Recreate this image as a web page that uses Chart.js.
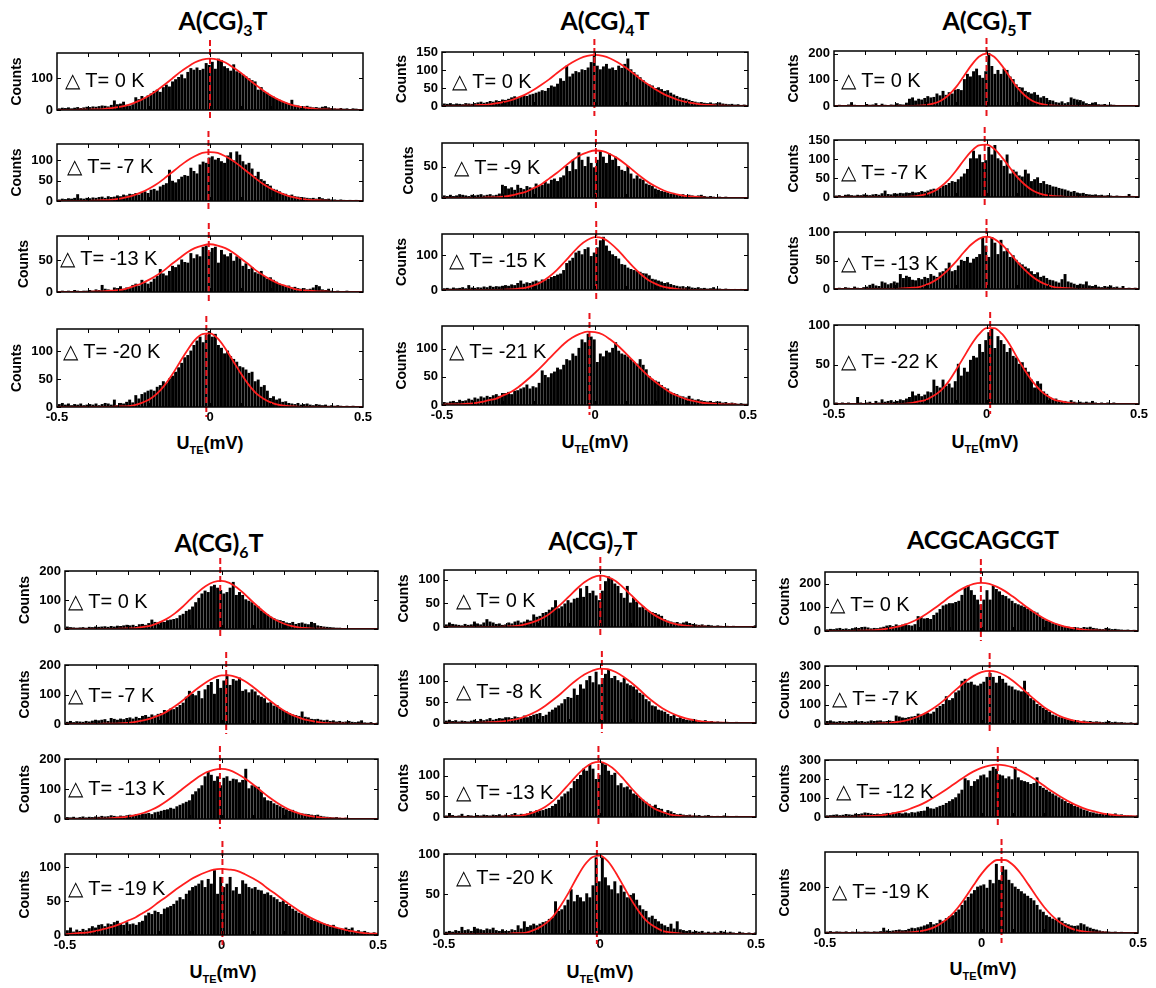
<!DOCTYPE html>
<html>
<head>
<meta charset="utf-8">
<script src="https://cdn.jsdelivr.net/npm/chart.js@4.4.1/dist/chart.umd.min.js"></script>
<style>
body{margin:0;background:#fff;width:1156px;height:988px;position:relative;overflow:hidden;font-family:"Liberation Sans",Arial,sans-serif}
canvas{position:absolute}
.title{position:absolute;font-family:Lato,"Liberation Sans",sans-serif;font-weight:700;font-size:25px;transform:translate(-50%,-50%);white-space:nowrap;color:#000}
.title sub{font-size:16px;vertical-align:-6px;line-height:0}
.xlab{position:absolute;font-weight:700;font-size:18px;transform:translate(-50%,-50%);white-space:nowrap}
.xlab sub{font-size:11px;vertical-align:-5px;line-height:0}
.dt{position:absolute;font-size:20px;transform:translateY(-50%);white-space:nowrap;color:#000}
</style>
</head>
<body>
<script>
// histogram bins: 100 bins of 0.01 mV between -0.5 and 0.5
const binLabels = Array.from({length: 100}, (_, i) => (-0.495 + i * 0.01).toFixed(3));
// x grid of the gaussian fit points
const fitX = [-0.5,-0.475,-0.45,-0.425,-0.4,-0.375,-0.35,-0.325,-0.3,-0.275,-0.25,-0.225,-0.2,-0.175,-0.15,-0.125,-0.1,-0.075,-0.05,-0.025,0,
  0.025,0.05,0.075,0.1,0.125,0.15,0.175,0.2,0.225,0.25,0.275,0.3,0.325,0.35,0.375,0.4,0.425,0.45,0.475,0.5];

const titleMain = ['A(CG)', 'A(CG)', 'A(CG)', 'A(CG)', 'A(CG)', 'ACGCAGCGT'];
const titleSub = ['3', '4', '5', '6', '7', ''];
const titleEnd = ['T', 'T', 'T', 'T', 'T', ''];

// delta T of each panel
const dTCG3 = ['0', '-7', '-13', '-20'];
const dTCG4 = ['0', '-9', '-15', '-21'];
const dTCG5 = ['0', '-7', '-13', '-22'];
const dTCG6 = ['0', '-7', '-13', '-19'];
const dTCG7 = ['0', '-8', '-13', '-20'];
const dTACG = ['0', '-7', '-12', '-19'];

// y range / tick step of each panel
const yMaxCG3 = [180, 140, 88, 140], yStepCG3 = [100, 50, 50, 50];
const yMaxCG4 = [150, 88, 160, 140], yStepCG4 = [50, 50, 100, 50];
const yMaxCG5 = [210, 150, 100, 100], yStepCG5 = [100, 50, 50, 50];
const yMaxCG6 = [200, 200, 200, 120], yStepCG6 = [100, 100, 100, 50];
const yMaxCG7 = [120, 140, 140, 100], yStepCG7 = [50, 50, 50, 50];
const yMaxACG = [250, 300, 300, 355], yStepACG = [100, 100, 100, 200];

// fitted peak centers (dashed lines)
const centerCG3 = [0, -0.005, -0.004, -0.012];
const centerCG4 = [-0.002, 0.003, 0.004, -0.018];
const centerCG5 = [0, -0.006, 0, 0.012];
const centerCG6 = [-0.004, 0.015, -0.005, 0.003];
const centerCG7 = [0.001, 0.006, -0.005, -0.01];
const centerACG = [-0.002, 0.026, 0.052, 0.064];

// histogram counts
const countsCG3 = [
 [3,5,4,6,3,5,7,4,6,8, 7,9,8,10,12,11,9,14,28,16, 18,24,14,12,16,38,32,42,36,44, 50,58,62,55,70,78,72,88,95,102,
  110,98,118,130,125,132,124,128,146,140, 150,128,160,155,136,130,122,142,120,116, 110,104,98,92,88,62,70,56,52,44,
  40,34,30,26,22,18,30,14,12,10, 9,11,8,6,7,5,8,10,6,4, 3,2,4,2,3,1,3,2,1,1],
 [2,4,3,5,4,6,15,5,4,6, 5,7,6,8,9,6,10,8,9,12, 10,14,12,16,15,18,14,20,22,18, 26,28,24,34,38,42,75,48,44,52,
  58,62,60,80,72,66,88,95,92,105, 108,100,104,96,92,110,118,98,120,112, 96,88,92,78,60,70,52,48,40,36,
  28,26,22,18,16,12,14,10,9,8, 7,6,5,6,4,8,5,3,4,2, 2,1,2,1,0,1,0,1,0,0],
 [0,1,0,1,0,2,1,0,1,1, 2,1,3,2,10,4,3,2,6,5, 8,4,6,5,10,12,9,18,14,12, 15,20,24,35,28,25,32,40,38,42,
  50,46,45,60,52,58,55,70,72,62, 68,70,45,65,58,55,60,48,55,52, 40,44,35,38,30,28,32,24,20,22,
  18,15,12,10,8,9,6,7,5,4, 5,3,4,6,10,8,3,2,4,1, 0,1,0,0,1,0,0,0,0,0],
 [4,6,3,5,2,4,3,5,2,3, 4,3,5,2,4,6,5,3,12,2, 6,5,8,12,7,20,14,22,25,28, 30,28,35,38,45,42,50,55,62,70,
  78,88,92,100,110,118,125,115,128,135, 125,130,110,105,95,100,90,85,80,72, 70,66,60,62,45,48,35,38,28,15,
  18,12,14,8,9,6,5,4,6,3, 4,5,3,2,4,3,2,3,1,2, 1,2,1,0,1,0,1,0,0,0]
];
const countsCG4 = [
 [5,4,6,3,5,4,3,6,5,4, 6,8,10,7,9,12,10,14,12,16, 15,18,22,25,20,24,28,26,30,32, 35,38,42,40,48,55,52,60,75,68,
  110,80,88,95,92,100,98,105,120,140, 110,100,108,115,102,105,98,110,104,115, 130,100,92,85,78,70,62,58,55,48,
  50,45,40,42,35,30,26,22,20,18, 15,12,10,8,9,7,6,8,5,6, 8,5,4,3,4,2,3,1,2,1],
 [3,2,4,2,3,5,4,3,2,4, 3,4,5,3,4,5,3,4,6,20, 18,14,16,12,20,15,13,18,16,15, 22,18,20,25,22,28,30,26,32,35,
  50,42,60,45,72,60,50,65,55,48, 60,75,65,55,70,60,65,50,44,42, 50,38,30,35,30,28,22,20,18,14,
  12,10,9,8,6,7,5,4,5,3, 4,3,2,3,4,2,1,2,1,0, 1,0,1,0,0,0,0,0,0,0],
 [3,4,2,5,3,4,6,3,12,5, 4,6,5,8,6,10,7,9,8,10, 12,10,14,12,18,25,16,20,18,22, 25,22,28,26,30,35,38,42,45,55,
  75,82,90,105,110,100,115,120,95,105, 120,140,150,125,110,100,95,88,72,70, 62,58,55,52,50,46,45,40,30,28,
  25,22,18,20,15,12,10,8,9,6, 8,5,4,6,3,4,2,3,6,2, 2,1,2,1,0,1,0,1,0,1],
 [4,3,5,6,4,8,6,7,10,8, 12,10,14,12,15,13,16,18,15,20, 20,22,18,24,25,28,30,35,28,32, 30,38,60,52,48,55,58,65,62,70,
  80,78,90,86,100,115,110,125,120,115, 75,90,85,95,92,100,110,95,90,88, 85,80,75,72,80,70,62,50,45,42,
  40,34,30,28,22,20,18,15,14,12, 15,10,8,9,7,6,5,6,4,5, 5,3,4,2,3,2,1,2,1,1]
];
const countsCG5 = [
 [0,2,0,1,3,12,2,0,1,0, 5,2,3,8,1,6,2,0,3,2, 8,4,3,10,25,30,18,25,22,28, 35,30,32,45,38,55,40,50,45,60,
  62,58,100,120,110,130,140,115,105,130, 200,150,120,135,120,140,135,110,100,80, 70,68,55,50,45,50,40,30,35,28,
  20,18,12,10,15,8,12,30,25,22, 20,15,8,5,10,12,4,3,5,2, 3,2,1,0,1,0,0,0,0,0],
 [2,3,1,4,5,3,2,4,3,5, 4,3,5,6,4,8,15,6,5,8, 7,9,8,10,9,12,10,11,14,12, 15,18,20,16,22,28,30,35,40,38,
  45,52,60,72,100,120,100,110,90,95, 130,110,135,100,95,80,110,60,70,65, 55,52,70,60,40,45,50,35,40,32,
  30,26,25,22,20,18,15,12,14,10, 8,9,6,5,4,5,3,4,2,3, 2,1,2,1,0,1,6,1,0,0],
 [0,1,0,2,1,0,3,1,0,2, 3,6,8,5,4,12,10,7,9,12, 10,25,18,22,20,15,14,18,16,20, 18,25,22,20,28,30,35,45,30,32,
  40,50,48,55,45,52,55,60,90,75, 55,90,80,60,85,65,70,55,58,50, 45,42,38,35,30,25,28,20,22,18,
  15,14,12,10,16,25,12,10,8,6, 8,7,12,5,4,6,3,2,4,3, 5,2,3,1,4,0,1,0,1,0],
 [1,0,1,0,1,0,0,8,1,0, 1,2,0,3,1,5,2,3,4,2, 3,5,4,6,8,15,10,12,9,11, 15,14,30,22,20,30,22,25,20,28,
  50,35,45,40,55,60,58,75,65,80, 90,95,70,85,80,75,65,70,60,58, 50,52,45,40,30,20,28,25,15,12,
  8,5,6,4,3,3,2,4,2,1, 2,1,2,1,3,1,0,1,0,1, 0,1,0,0,0,0,0,0,0,0]
];
const countsCG6 = [
 [6,4,3,2,3,4,2,5,4,6, 5,6,7,5,8,6,9,8,10,12, 10,12,8,14,15,12,18,30,22,20, 25,22,28,30,32,35,45,50,60,65,
  75,90,105,120,130,125,145,150,140,132, 120,125,140,160,115,125,115,100,95,90, 80,75,62,55,48,40,35,30,28,25,
  20,18,22,15,18,20,16,14,22,18, 10,8,6,5,4,3,2,2,1,1, 1,0,1,0,0,0,0,0,0,0],
 [5,8,4,7,6,5,8,6,9,12, 10,12,14,8,18,15,12,16,14,18, 20,16,22,18,25,28,22,30,26,32, 35,45,42,50,48,55,62,70,90,110,
  100,95,110,85,115,130,140,100,150,120, 145,165,130,150,145,155,110,115,105,115, 108,95,90,85,70,72,60,62,50,45,
  40,35,30,28,25,40,22,20,15,14, 15,12,10,12,8,10,6,8,5,6, 8,5,4,6,10,3,2,4,1,2],
 [4,3,5,2,4,6,3,5,4,6, 5,8,6,7,10,8,6,9,8,10, 12,10,14,12,15,16,18,14,20,22, 25,28,30,35,32,40,45,50,55,60,
  80,90,100,110,140,155,145,125,140,110, 135,140,125,132,130,120,128,165,100,110, 108,105,90,70,60,58,50,45,40,35,
  30,25,28,22,18,16,15,14,12,10, 12,8,6,5,4,3,4,2,1,2, 1,1,0,1,0,0,0,0,0,0],
 [6,10,4,7,5,8,6,9,12,10, 14,15,12,16,15,18,20,16,14,18, 15,16,14,18,20,28,32,30,35,33, 30,38,40,42,45,50,55,52,60,65,
  70,72,75,80,70,82,75,95,60,85, 70,75,85,65,70,60,80,75,70,68, 70,66,65,60,62,58,55,52,48,50,
  45,42,38,35,32,30,28,25,22,20, 20,18,16,15,12,14,10,9,8,10, 8,10,5,6,4,5,3,2,3,1]
];
const countsCG7 = [
 [4,8,5,4,3,2,5,3,4,10, 6,4,8,15,10,8,5,6,3,4, 8,6,10,12,8,10,14,12,25,20, 22,28,30,35,40,55,38,42,48,55,
  50,58,60,80,62,85,70,75,65,55, 75,95,105,100,90,85,70,60,85,50, 60,52,40,42,35,32,30,28,25,22,
  15,12,10,8,9,6,8,10,7,5, 4,3,4,2,3,2,1,2,1,0, 1,0,1,0,0,0,0,0,0,2],
 [4,6,3,5,2,4,3,2,4,6, 3,8,5,7,10,6,8,10,9,12, 12,10,14,12,10,16,12,15,18,20, 22,15,18,25,30,35,40,45,55,60,
  58,80,65,90,80,100,110,95,120,90, 105,115,125,105,110,100,95,105,92,88, 85,78,70,66,55,50,40,38,30,28,
  25,20,15,18,10,12,8,6,5,8, 6,4,3,5,2,3,1,2,1,0, 1,0,0,1,0,0,0,0,0,0],
 [2,8,3,1,2,6,1,3,2,1, 3,2,4,3,2,4,3,5,2,4, 3,5,8,4,6,5,7,12,10,15, 14,15,18,20,25,30,40,48,55,60,
  68,85,90,100,115,110,125,115,90,100, 130,125,110,100,105,75,80,70,72,65, 55,52,45,40,35,30,25,28,20,18,
  10,15,12,8,5,6,4,3,4,2, 2,3,1,2,3,1,0,1,0,2, 1,0,0,1,0,0,0,0,0,0],
 [2,3,2,4,3,8,4,5,3,8, 6,5,4,6,5,7,4,3,5,3, 3,5,4,10,6,15,8,10,12,10, 12,14,15,18,20,40,28,30,35,42,
  55,40,48,45,40,50,45,60,95,65, 95,70,60,55,65,50,60,52,45,48, 50,42,35,30,28,20,22,18,15,12,
  10,8,12,6,15,5,4,3,4,2, 3,2,3,1,2,1,2,1,3,2, 1,2,1,0,2,1,0,1,0,1]
];
const countsACG = [
 [4,6,5,8,10,6,8,5,9,12, 10,14,15,12,8,10,9,12,15,20, 22,18,25,20,24,28,22,20,26,60, 55,50,52,48,65,75,90,105,110,115,
  115,120,125,150,180,190,170,150,130,110, 130,170,130,190,175,165,150,145,135,125, 115,110,105,100,92,85,80,75,60,50,
  42,38,30,28,22,20,18,15,12,14, 12,10,14,12,15,10,8,6,5,10, 8,5,6,4,3,2,3,1,2,1],
 [12,15,10,8,12,10,8,12,10,14, 10,12,8,10,15,12,14,15,10,12, 14,12,40,35,30,28,32,35,38,50, 45,48,55,50,60,80,90,100,140,120,
  130,160,170,220,230,210,215,200,195,205, 215,240,260,240,210,245,230,210,195,190, 175,170,165,220,160,130,120,100,90,80,
  70,60,45,40,32,30,25,20,18,15, 15,12,14,10,12,8,10,8,6,8, 12,6,8,5,6,4,3,5,2,3],
 [5,6,8,10,6,8,12,10,8,14, 12,15,20,18,15,12,14,12,15,18, 15,20,22,18,15,20,16,22,20,25, 28,30,50,42,40,48,55,60,70,80,
  90,100,120,140,200,190,160,185,195,215, 220,205,240,260,250,220,215,200,210,195, 260,205,190,185,180,170,175,205,160,150,
  140,130,120,110,100,90,80,70,65,55, 50,42,35,30,22,20,15,12,14,10, 10,12,15,8,10,6,5,4,3,5],
 [3,5,2,4,3,2,4,1,3,2, 3,2,4,3,2,4,3,5,20,8, 6,8,10,12,9,10,15,20,18,22, 25,30,35,45,35,40,55,50,62,70,
  75,90,100,120,140,155,170,185,200,205, 210,195,230,215,300,230,290,275,230,215, 200,190,180,170,160,150,140,120,100,90,
  75,68,60,55,65,50,40,35,30,28, 30,40,35,25,20,15,12,8,5,4, 3,2,3,1,2,1,0,1,0,0]
];

// gaussian fit curves, on the fitX grid
const fitCG3 = [
 [0,0,0,1,1,2,3,6,9,14,22,32,45,61,79,98,118,135,150,159,162,159,150,135,118,98,79,61,45,32,22,14,9,6,3,2,1,1,0,0,0],
 [0,0,0,0,0,1,2,3,5,9,14,21,30,41,55,70,85,99,110,118,120,118,110,99,85,70,55,41,30,21,14,9,5,3,2,1,0,0,0,0,0],
 [0,0,0,0,0,1,1,2,3,5,9,13,19,26,34,44,53,62,69,73,75,73,69,62,53,44,34,26,19,13,9,5,3,2,1,1,0,0,0,0,0],
 [0,0,0,0,0,0,0,0,1,1,3,7,13,23,38,57,79,101,120,131,132,123,105,83,61,41,25,15,8,4,2,1,0,0,0,0,0,0,0,0,0]
];
const fitCG4 = [
 [0,0,0,1,1,3,4,7,11,16,24,33,45,59,74,91,107,121,132,139,142,139,132,121,107,91,74,59,45,33,24,16,11,7,4,3,1,1,0,0,0],
 [0,0,0,0,0,0,1,1,2,4,7,10,16,22,31,40,50,60,68,73,76,75,70,63,54,44,34,25,18,12,8,5,3,2,1,0,0,0,0,0,0],
 [0,0,0,0,0,0,0,0,1,2,4,7,13,23,38,57,80,104,127,143,151,148,134,114,90,66,45,28,17,9,5,2,1,0,0,0,0,0,0,0,0],
 [0,1,1,2,3,5,8,11,17,23,32,43,55,68,82,96,109,119,126,130,129,125,116,105,92,78,64,51,40,30,21,15,10,7,4,3,2,1,1,0,0]
];
const fitCG5 = [
 [0,0,0,0,0,0,0,0,0,0,0,1,3,9,20,41,72,113,155,188,200,188,155,113,72,41,20,9,3,1,0,0,0,0,0,0,0,0,0,0,0],
 [0,0,0,0,0,0,0,0,0,0,1,3,7,14,27,45,69,96,120,136,138,127,105,79,53,33,18,9,4,2,1,0,0,0,0,0,0,0,0,0,0],
 [0,0,0,0,0,0,0,0,0,1,2,3,7,13,22,34,48,64,78,88,92,88,78,64,48,34,22,13,7,3,2,1,0,0,0,0,0,0,0,0,0],
 [0,0,0,0,0,0,0,0,0,0,1,3,5,10,17,28,43,59,75,88,96,96,89,76,59,43,29,18,10,5,3,1,0,0,0,0,0,0,0,0,0]
];
const fitCG6 = [
 [0,0,0,0,0,0,0,1,2,3,7,12,22,35,53,76,102,127,148,162,166,159,142,119,93,69,47,30,18,10,5,3,1,1,0,0,0,0,0,0,0],
 [0,0,0,0,0,1,1,2,4,7,12,19,29,42,59,79,101,122,141,156,165,165,158,145,126,105,83,63,45,31,21,13,8,4,2,1,1,0,0,0,0],
 [0,0,0,0,1,1,3,5,8,13,20,30,43,60,79,100,120,139,155,164,167,163,151,135,116,95,74,56,40,27,18,11,7,4,2,1,1,0,0,0,0],
 [1,2,3,4,6,9,12,16,21,26,33,40,49,57,66,74,82,88,93,97,98,97,95,90,84,77,68,60,51,43,35,28,22,17,13,10,7,5,3,2,2]
];
const fitCG7 = [
 [0,0,0,0,0,0,0,0,1,2,4,8,14,22,34,48,64,80,94,104,108,105,97,83,67,51,37,25,16,9,5,3,1,1,0,0,0,0,0,0,0],
 [0,0,0,0,0,1,2,3,5,8,13,20,29,41,55,70,87,102,115,124,129,128,121,110,96,80,63,48,35,25,17,11,7,4,2,1,1,0,0,0,0],
 [0,0,0,0,0,0,0,0,1,2,4,8,15,25,39,58,79,100,118,130,133,126,112,92,70,50,33,20,12,6,3,1,1,0,0,0,0,0,0,0,0],
 [0,0,0,0,0,0,0,0,0,1,1,3,7,13,22,36,52,70,86,96,98,91,77,60,43,28,16,9,4,2,1,0,0,0,0,0,0,0,0,0,0]
];
const fitACG = [
 [0,0,0,0,1,2,3,6,10,16,25,37,53,73,96,121,146,169,187,200,204,200,187,169,146,121,96,73,53,37,25,16,10,6,3,2,1,0,0,0,0],
 [0,0,0,0,0,1,1,3,5,9,15,25,40,60,85,116,151,187,221,249,268,275,269,251,224,190,154,119,87,62,41,26,16,9,5,3,1,1,0,0,0],
 [0,0,1,1,2,4,6,9,14,22,31,45,61,81,105,131,159,188,216,240,259,271,276,272,261,243,220,193,164,135,109,85,64,47,33,23,15,10,6,4,2],
 [0,0,0,0,0,0,0,0,0,1,1,3,7,14,26,46,74,112,159,210,259,298,320,320,299,261,212,161,114,76,47,27,14,7,3,1,1,0,0,0,0]
];

const groups = [
  {counts: countsCG3, fit: fitCG3, center: centerCG3, yMax: yMaxCG3, yStep: yStepCG3, dT: dTCG3},
  {counts: countsCG4, fit: fitCG4, center: centerCG4, yMax: yMaxCG4, yStep: yStepCG4, dT: dTCG4},
  {counts: countsCG5, fit: fitCG5, center: centerCG5, yMax: yMaxCG5, yStep: yStepCG5, dT: dTCG5},
  {counts: countsCG6, fit: fitCG6, center: centerCG6, yMax: yMaxCG6, yStep: yStepCG6, dT: dTCG6},
  {counts: countsCG7, fit: fitCG7, center: centerCG7, yMax: yMaxCG7, yStep: yStepCG7, dT: dTCG7},
  {counts: countsACG, fit: fitACG, center: centerACG, yMax: yMaxACG, yStep: yStepACG, dT: dTACG}
];

// layout (pixel boxes of the plot areas)
const boxes = [
  {l: 57, r: 363, rows: [[53,132],[144,223],[236,314],[329,407]]},
  {l: 442, r: 748, rows: [[52,128],[143,220],[234,312],[326,405]]},
  {l: 834, r: 1139, rows: [[51,128],[140,219],[232,311],[325,404]]},
  {l: 65, r: 378, rows: [[571,651],[665,746],[759,841],[854,935]]},
  {l: 444, r: 756, rows: [[570,649],[664,745],[759,839],[854,934]]},
  {l: 825, r: 1138, rows: [[572,653],[666,746],[760,839],[852,933]]}
];
const titlePos = [[223,20],[605,20],[987,20],[219,542],[593,540],[983,539]];
const xlabPos = [[210,443],[595,442],[985,442],[223,972],[600,972],[983,969]];
const dtOffX = [[8,10,3,6],[10,12,7,7],[7,7,7,7],[3,3,3,3],[12,12,12,12],[5,7,11,7]];
const dtOffY = [[27,22,22,22],[29,24,26,25],[29,32,31,36],[30,30,29,34],[30,27,33,23],[32,32,31,39]];

const LEFT = 56, TOP = 16, RIGHT = 16, BELOW = 12;
const TICK_FONT = 'bold 13px "Liberation Sans", Arial';

const panelDeco = {
  id: 'panelDeco',
  afterDatasetsDraw(chart, args, opts) {
    const ctx = chart.ctx, a = chart.chartArea;
    const xs = chart.scales.xv, ys = chart.scales.y;
    const yTicks = [];
    for (let v = 0; v <= opts.max + 1e-9; v += opts.step) yTicks.push(v);
    ctx.save();
    // dashed line at the fitted center
    const cx = xs.getPixelForValue(opts.center);
    ctx.strokeStyle = '#e8141b';
    ctx.lineWidth = 2;
    ctx.setLineDash([6, 3]);
    ctx.beginPath();
    ctx.moveTo(cx, a.top - 13);
    ctx.lineTo(cx, a.bottom + 10);
    ctx.stroke();
    ctx.setLineDash([]);
    // box
    ctx.strokeStyle = '#000';
    ctx.lineWidth = 1.5;
    ctx.strokeRect(a.left, a.top, a.right - a.left, a.bottom - a.top);
    // inward ticks
    ctx.lineWidth = 1;
    ctx.beginPath();
    for (let k = -4; k <= 4; k++) {
      const px = Math.round(xs.getPixelForValue(k / 10)) + 0.5;
      ctx.moveTo(px, a.top); ctx.lineTo(px, a.top + 4);
      ctx.moveTo(px, a.bottom); ctx.lineTo(px, a.bottom - 4);
    }
    yTicks.forEach(v => {
      const py = Math.round(ys.getPixelForValue(v)) + 0.5;
      ctx.moveTo(a.left, py); ctx.lineTo(a.left + 4, py);
      ctx.moveTo(a.right, py); ctx.lineTo(a.right - 4, py);
    });
    ctx.stroke();
    // y tick labels
    ctx.font = TICK_FONT;
    ctx.fillStyle = '#000';
    ctx.textAlign = 'right';
    ctx.textBaseline = 'middle';
    let w = 0;
    yTicks.forEach(v => {
      const s = String(v);
      w = Math.max(w, ctx.measureText(s).width);
      ctx.fillText(s, a.left - 4, ys.getPixelForValue(v));
    });
    // y axis label
    ctx.font = 'bold 14px "Liberation Sans", Arial';
    ctx.translate(a.left - w - 18, (a.top + a.bottom) / 2);
    ctx.rotate(-Math.PI / 2);
    ctx.textAlign = 'center';
    ctx.fillText('Counts', 0, 0);
    ctx.restore();
  }
};

function addDiv(cls, html, x, y) {
  const d = document.createElement('div');
  d.className = cls;
  d.innerHTML = html;
  d.style.left = x + 'px';
  d.style.top = y + 'px';
  document.body.appendChild(d);
}

groups.forEach((g, gi) => {
  const box = boxes[gi];
  addDiv('title', titleMain[gi] + (titleSub[gi] ? '<sub>' + titleSub[gi] + '</sub>' : '') + titleEnd[gi], titlePos[gi][0], titlePos[gi][1]);
  addDiv('xlab', 'U<sub>TE</sub>(mV)', xlabPos[gi][0], xlabPos[gi][1]);

  box.rows.forEach((row, p) => {
    const last = p === 3;
    const h = row[1] - row[0];
    const cv = document.createElement('canvas');
    cv.width = box.r - box.l + LEFT + RIGHT;
    cv.height = h + TOP + (last ? 22 : BELOW);
    cv.style.left = (box.l - LEFT) + 'px';
    cv.style.top = (row[0] - TOP) + 'px';
    document.body.appendChild(cv);

    new Chart(cv, {
      type: 'bar',
      data: {
        labels: binLabels,
        datasets: [{
          type: 'line',
          data: fitX.map((x, i) => ({x: x, y: g.fit[p][i]})),
          xAxisID: 'xv',
          borderColor: '#ff1e1e',
          borderWidth: 1.8,
          pointRadius: 0,
          cubicInterpolationMode: 'monotone',
          order: 1
        }, {
          type: 'bar',
          data: g.counts[p],
          xAxisID: 'x',
          backgroundColor: '#000',
          borderWidth: 0,
          barPercentage: 1,
          categoryPercentage: 1,
          inflateAmount: 0.7,
          order: 2
        }]
      },
      options: {
        responsive: false,
        animation: false,
        devicePixelRatio: 1,
        layout: {autoPadding: false, padding: {left: 0, top: TOP, right: RIGHT, bottom: last ? 0 : BELOW}},
        plugins: {
          legend: {display: false},
          tooltip: {enabled: false},
          panelDeco: {center: g.center[p], step: g.yStep[p], max: g.yMax[p]}
        },
        scales: {
          x: {type: 'category', display: false, offset: true},
          xv: {
            type: 'linear',
            position: 'bottom',
            offset: false,
            min: -0.5,
            max: 0.5,
            display: last,
            grid: {display: false, drawTicks: false, offset: false},
            border: {display: false},
            ticks: {
              stepSize: 0.1,
              autoSkip: false,
              maxRotation: 0,
              padding: 3,
              color: '#000',
              font: {family: '"Liberation Sans", Arial', size: 13, weight: 'bold'},
              callback: v => Math.abs(v) < 1e-9 ? '0' : (Math.abs(Math.abs(v) - 0.5) < 1e-9 ? String(v) : '')
            },
            afterFit: s => { s.height = 22; }
          },
          y: {
            min: 0,
            max: g.yMax[p],
            grid: {display: false, drawTicks: false},
            border: {display: false},
            ticks: {display: false},
            afterFit: s => { s.width = LEFT; }
          }
        }
      },
      plugins: [panelDeco]
    });

    addDiv('dt', '\u25B3 T= ' + g.dT[p] + ' K', box.l + dtOffX[gi][p], row[0] + dtOffY[gi][p]);
  });
});
</script>
</body>
</html>
